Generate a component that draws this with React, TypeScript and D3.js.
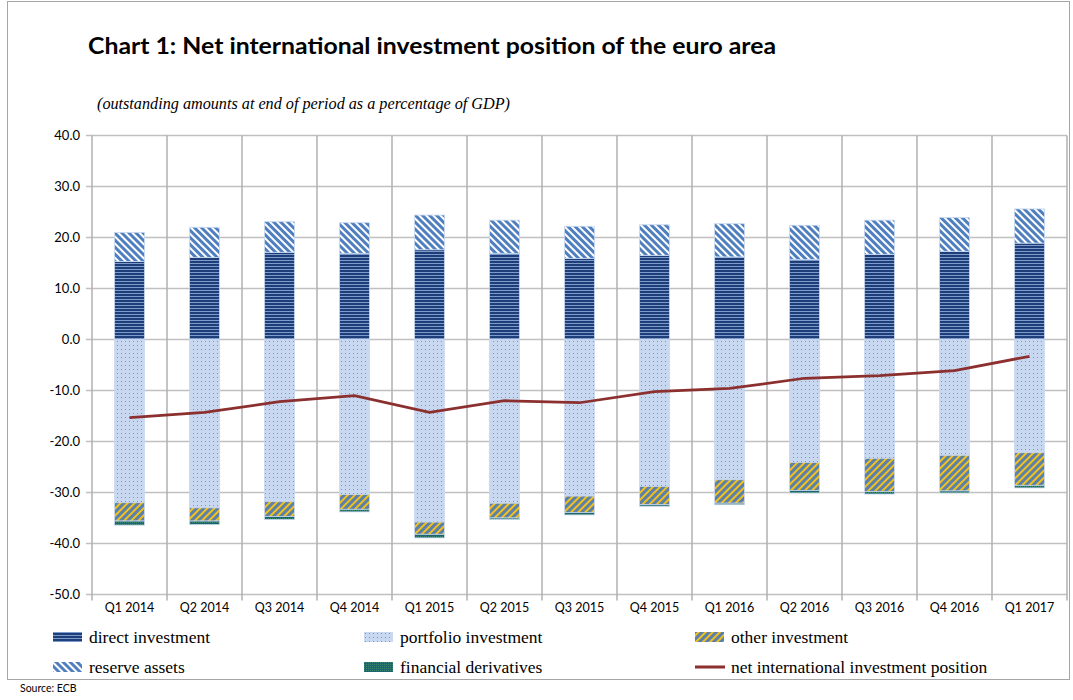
import React from "react";
import * as d3 from "d3";

const categories = ["Q1 2014","Q2 2014","Q3 2014","Q4 2014","Q1 2015","Q2 2015","Q3 2015","Q4 2015","Q1 2016","Q2 2016","Q3 2016","Q4 2016","Q1 2017"];
const directInvestment = [15.3,16.1,17.1,16.9,17.6,16.9,15.9,16.5,16.2,15.7,16.7,17.3,18.9];
const reserveAssets = [5.7,5.9,6.0,6.0,6.8,6.5,6.3,6.0,6.5,6.7,6.7,6.6,6.7];
const portfolioInvestment = [-32.0,-33.0,-31.8,-30.4,-35.8,-32.1,-30.7,-28.8,-27.5,-24.1,-23.3,-22.7,-22.2];
const otherInvestment = [-3.6,-2.6,-2.9,-2.9,-2.4,-2.9,-3.2,-3.6,-4.6,-5.5,-6.5,-7.0,-6.4];
const financialDerivatives = [-0.8,-0.7,-0.6,-0.5,-0.7,-0.3,-0.5,-0.3,-0.3,-0.5,-0.5,-0.4,-0.5];
const niip = [-15.3,-14.3,-12.2,-11.0,-14.3,-12.0,-12.4,-10.2,-9.6,-7.6,-7.1,-6.1,-3.3];
const yTicks = [40,30,20,10,0,-10,-20,-30,-40,-50];

const keys = ["direct","portfolio","other","reserve","deriv"];
const fills: Record<string,string> = {
  direct: "url(#pDirect)", portfolio: "url(#pPort)", other: "url(#pOther)", reserve: "url(#pRes)", deriv: "url(#pDeriv)"
};

export default function App() {
  const left = 92, right = 1067, top = 135.5, bottom = 594.5;
  const x = d3.scaleBand().domain(categories).range([left, right]).paddingInner(0.6).paddingOuter(0.3);
  const y = d3.scaleLinear().domain([-50, 40]).range([bottom, top]);
  const rows = categories.map((c, i) => ({
    cat: c, direct: directInvestment[i], portfolio: portfolioInvestment[i], other: otherInvestment[i],
    reserve: reserveAssets[i], deriv: financialDerivatives[i]
  }));
  const stack = d3.stack<any>().keys(keys).offset(d3.stackOffsetDiverging);
  const series = stack(rows);
  const line = d3.line<number>().x((_, i) => (x(categories[i]) as number) + x.bandwidth() / 2).y(d => y(d));
  const step = x.step();
  const boundaries = d3.range(categories.length + 1).map(i => left + i * step);
  const axisFont = "Lato, 'Open Sans', sans-serif";
  const serif = "'Liberation Serif', 'DejaVu Serif', serif";

  const legendItems = [
    { key: "direct", label: "direct investment", x: 53, y: 637 },
    { key: "portfolio", label: "portfolio investment", x: 364, y: 637 },
    { key: "other", label: "other investment", x: 695, y: 637 },
    { key: "reserve", label: "reserve assets", x: 53, y: 667 },
    { key: "deriv", label: "financial derivatives", x: 364, y: 667 },
    { key: "line", label: "net international investment position", x: 695, y: 667 },
  ];

  return (
    <svg width={1073} height={700} style={{ position: "absolute", left: 0, top: 0, background: "#fff" }}>
      <defs>
        <pattern id="pDirect" patternUnits="userSpaceOnUse" width={4} height={3}>
          <rect width={4} height={3} fill="#1f3d78" />
          <rect y={2} width={4} height={1} fill="#7c9ccc" />
        </pattern>
        <pattern id="pRes" patternUnits="userSpaceOnUse" width={5} height={5} patternTransform="rotate(-45)">
          <rect width={5} height={5} fill="#ffffff" />
          <rect width={3} height={5} fill="#4f7fbf" />
        </pattern>
        <pattern id="pOther" patternUnits="userSpaceOnUse" width={5} height={5} patternTransform="rotate(45)">
          <rect width={5} height={5} fill="#5b80aa" />
          <rect width={2} height={5} fill="#f3c11b" />
        </pattern>
        <pattern id="pPort" patternUnits="userSpaceOnUse" width={4} height={4}>
          <rect width={4} height={4} fill="#c7d8f0" />
          <rect x={1} y={1} width={1} height={1} fill="#7d94c2" />
        </pattern>
        <pattern id="pDeriv" patternUnits="userSpaceOnUse" width={2} height={2}>
          <rect width={2} height={2} fill="#1d6470" />
          <rect width={1} height={1} fill="#3b8a6e" />
        </pattern>
      </defs>

      {/* chart frame */}
      <rect x={7.5} y={1.5} width={1062} height={678} fill="none" stroke="#a6a6a6" strokeWidth={1} />

      {/* title */}
      <text x={88} y={54} fontFamily="Lato, 'Open Sans', sans-serif" fontWeight={700} fontSize={23} fill="#000"
        textLength={688} lengthAdjust="spacingAndGlyphs">Chart 1: Net international investment position of the euro area</text>
      <text x={97} y={109} fontFamily={serif} fontStyle="italic" fontSize={16} fill="#000"
        textLength={413} lengthAdjust="spacingAndGlyphs">(outstanding amounts at end of period as a percentage of GDP)</text>

      {/* gridlines */}
      {yTicks.map(t => (
        <line key={"h" + t} x1={left - 6} x2={right} y1={y(t)} y2={y(t)} stroke="#c0c0c0" strokeWidth={1.5} />
      ))}
      {boundaries.map((b, i) => (
        <line key={"v" + i} x1={b} x2={b} y1={top} y2={bottom + 6} stroke="#b0b0b0" strokeWidth={1.5} />
      ))}

      {/* y labels */}
      {yTicks.map(t => (
        <text key={"yl" + t} x={80} y={y(t) + 4.5} textAnchor="end" fontFamily={axisFont} fontSize={13} fill="#000">{t.toFixed(1)}</text>
      ))}
      {/* x labels */}
      {categories.map(c => (
        <text key={"xl" + c} x={(x(c) as number) + x.bandwidth() / 2} y={612} textAnchor="middle" fontFamily={axisFont} fontSize={12.5} fill="#000">{c}</text>
      ))}

      {/* bars */}
      {series.map(s => (
        <g key={s.key} fill={fills[s.key]}>
          {s.map((d, i) => {
            const y0 = y(Math.max(d[0], d[1]));
            const y1 = y(Math.min(d[0], d[1]));
            return <rect key={i} x={x(categories[i])} y={y0} width={x.bandwidth()} height={Math.max(0, y1 - y0)} stroke="#c9d8ef" strokeWidth={0.8} />;
          })}
        </g>
      ))}

      {/* NIIP line */}
      <path d={line(niip) || ""} fill="none" stroke="#8c2f2f" strokeWidth={2.75} />

      {/* legend */}
      {legendItems.map(it => (
        <g key={it.key}>
          {it.key === "line"
            ? <line x1={it.x} x2={it.x + 30} y1={it.y} y2={it.y} stroke="#8c2f2f" strokeWidth={3} />
            : <rect x={it.x} y={it.y - 5} width={29} height={10} fill={fills[it.key]} />}
          <text x={it.x + 36} y={it.y + 6} fontFamily={serif} fontSize={17.5} fill="#000">{it.label}</text>
        </g>
      ))}

      <text x={20} y={692} fontFamily={axisFont} fontSize={10.5} fill="#000">Source: ECB</text>
    </svg>
  );
}
